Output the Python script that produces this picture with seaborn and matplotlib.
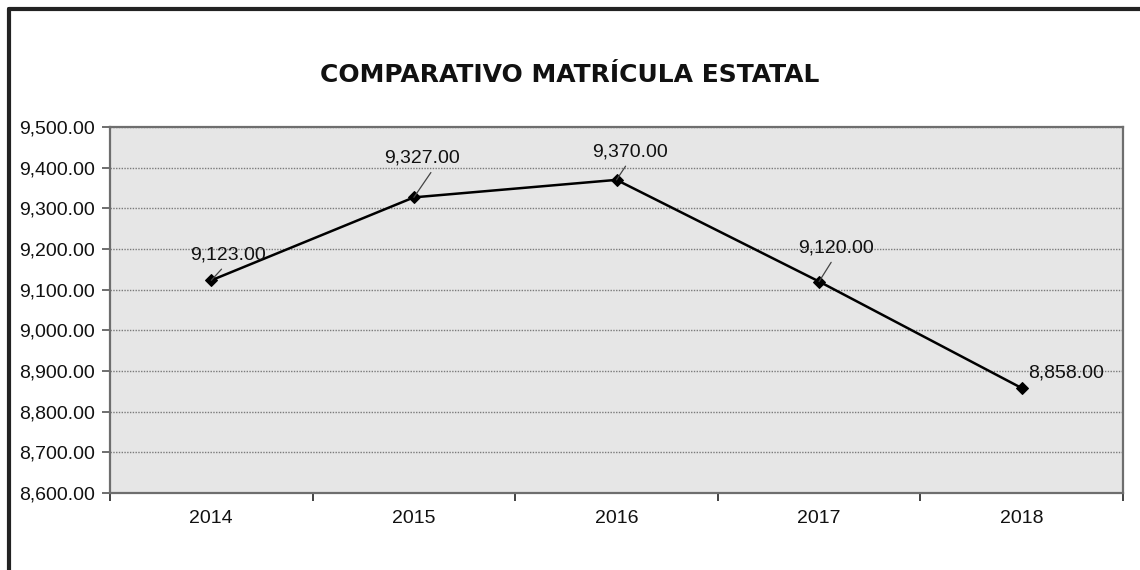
import matplotlib.pyplot as plt
import seaborn as sns
from matplotlib.lines import Line2D
from matplotlib.ticker import FuncFormatter, FixedLocator

# datos
anios = ["2014", "2015", "2016", "2017", "2018"]
matricula = [9123, 9327, 9370, 9120, 8858]
# desplazamiento de cada etiqueta (puntos) y si lleva línea guía
desp_etiquetas = [(12, 18), (6, 28), (10, 20), (12, 24), (32, 11)]
con_guia = [True, True, True, True, False]
anclaje_guia = [0.5, 0.68, 0.5, 0.5, 0.5]

sns.set_style("white")
plt.rcParams["font.family"] = ["Liberation Sans", "DejaVu Sans"]

fig = plt.figure(figsize=(11.4, 5.7), dpi=100)
ax = fig.add_axes([110 / 1140, 1 - 493 / 570, 1013 / 1140, 366 / 570])
ax.set_facecolor("#E6E6E6")

sns.lineplot(x=anios, y=matricula, ax=ax, color="black", linewidth=1.8,
             marker="D", markersize=6.5, markeredgecolor="black", zorder=3)

ax.set_xlim(-0.5, len(anios) - 0.5)
ax.set_ylim(8600, 9500)
ax.set_yticks(range(8600, 9501, 100))
ax.yaxis.set_major_formatter(FuncFormatter(lambda v, p: f"{v:,.2f}"))
ax.grid(axis="y", color="#7A7A7A", linestyle=(0, (1, 1)), linewidth=1)
ax.grid(axis="x", visible=False)
ax.set_axisbelow(True)

# marcas del eje x entre categorías (estilo Excel)
ax.xaxis.set_minor_locator(FixedLocator([i - 0.5 for i in range(len(anios) + 1)]))
ax.tick_params(axis="x", which="major", length=0, labelsize=14, pad=12,
               labelcolor="#111111")
ax.tick_params(axis="x", which="minor", length=6, width=1.2, color="#222222",
               direction="out", bottom=True)
ax.tick_params(axis="y", length=6, width=1.2, color="#555555", direction="out",
               left=True, labelsize=14, pad=5, labelcolor="#111111")
ax.set_xlabel("")
ax.set_ylabel("")

for lado in ["left", "bottom", "right", "top"]:
    ax.spines[lado].set_visible(True)
    ax.spines[lado].set_color("#6E6E6E")
    ax.spines[lado].set_linewidth(1.6)

# etiquetas de datos
for i, (v, d, g, r) in enumerate(zip(matricula, desp_etiquetas, con_guia, anclaje_guia)):
    props = None
    if g:
        props = dict(arrowstyle="-", color="#444444", lw=0.9, shrinkA=2,
                     shrinkB=0, relpos=(r, 0.1))
    ax.annotate(f"{v:,.2f}", xy=(i, v), xytext=d, textcoords="offset points",
                ha="center", va="center", fontsize=14, color="#111111",
                arrowprops=props, zorder=4)

fig.text(570 / 1140, 1 - 75 / 570, "COMPARATIVO MATRÍCULA ESTATAL",
         ha="center", va="center", fontsize=18, fontweight="bold",
         family=["DejaVu Sans"], color="#111111")

# marco del gráfico
fig.add_artist(Line2D([9 / 1140, 1], [1 - 9 / 570, 1 - 9 / 570],
                      transform=fig.transFigure, color="#222222", linewidth=3))
fig.add_artist(Line2D([9 / 1140, 9 / 1140], [0, 1 - 9 / 570],
                      transform=fig.transFigure, color="#222222", linewidth=3))

fig.savefig("out.png", dpi=100)
